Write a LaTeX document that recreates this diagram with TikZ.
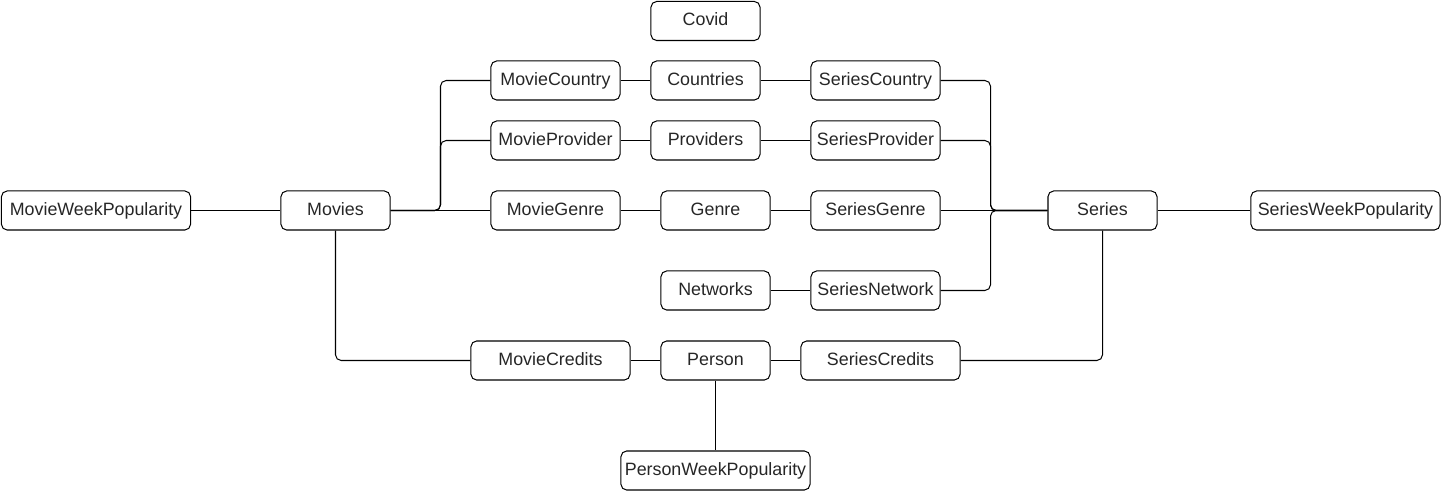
\documentclass[tikz,border=0pt]{standalone}
\usepackage{fontspec}
\setmainfont{Liberation Sans}
\begin{document}
\begin{tikzpicture}[x = 0.025cm, y = -0.025cm, line width = 0.72pt,
		tbl/.style = {draw, rounded corners = 4pt, minimum height = 0.975cm, inner sep = 0pt, text height = 9.1pt, text depth = 2.4pt, text = black!85, font = \fontsize{12.7}{15}\selectfont},
		link/.style = {rounded corners = 4pt}]
					\useasboundingbox (-0.5, -0.5) rectangle (1440.5, 490.5);
					\node[tbl, minimum width = 2.725cm] (covid) at (705, 20.5) {Covid};
					\node[tbl, minimum width = 3.225cm] (mcountry) at (555, 80) {MovieCountry};
					\node[tbl, minimum width = 2.725cm] (countries) at (705, 80) {Countries};
					\node[tbl, minimum width = 3.225cm] (scountry) at (875, 80) {SeriesCountry};
					\node[tbl, minimum width = 3.225cm] (mprovider) at (555, 140) {MovieProvider};
					\node[tbl, minimum width = 2.725cm] (providers) at (705, 140) {Providers};
					\node[tbl, minimum width = 3.225cm] (sprovider) at (875, 140) {SeriesProvider};
					\node[tbl, minimum width = 4.725cm] (mweek) at (95.5, 210) {MovieWeekPopularity};
					\node[tbl, minimum width = 2.725cm] (movies) at (335, 210) {Movies};
					\node[tbl, minimum width = 3.225cm] (mgenre) at (555, 210) {MovieGenre};
					\node[tbl, minimum width = 2.725cm] (genre) at (715, 210) {Genre};
					\node[tbl, minimum width = 3.225cm] (sgenre) at (875, 210) {SeriesGenre};
					\node[tbl, minimum width = 2.725cm] (series) at (1102, 210) {Series};
					\node[tbl, minimum width = 4.725cm] (sweek) at (1345, 210) {SeriesWeekPopularity};
					\node[tbl, minimum width = 2.725cm] (networks) at (715, 290) {Networks};
					\node[tbl, minimum width = 3.225cm] (snetwork) at (875, 290) {SeriesNetwork};
					\node[tbl, minimum width = 3.975cm] (mcredits) at (550, 360) {MovieCredits};
					\node[tbl, minimum width = 2.725cm] (person) at (715, 360) {Person};
					\node[tbl, minimum width = 3.975cm] (scredits) at (880, 360) {SeriesCredits};
					\node[tbl, minimum width = 4.725cm] (pweek) at (715, 470) {PersonWeekPopularity};
					% junctions
					\coordinate (mjoin) at (440, 210);
					\coordinate (sjoin) at (990, 210);
					% movie side
					\draw (mweek) -- (movies);
					\draw (movies) -- (mgenre);
					\draw[link] (movies.east) -- (mjoin) |- (mcountry.west);
					\draw[link] (movies.east) -- (mjoin) |- (mprovider.west);
					\draw[link] (movies.south) |- (mcredits.west);
					% middle rows
					\draw (mcountry) -- (countries) -- (scountry);
					\draw (mprovider) -- (providers) -- (sprovider);
					\draw (mgenre) -- (genre) -- (sgenre);
					\draw (networks) -- (snetwork);
					\draw (mcredits) -- (person) -- (scredits);
					\draw (person) -- (pweek);
					% series side
					\draw[link] (scountry.east) -| (sjoin) -- (series.west);
					\draw[link] (sprovider.east) -| (sjoin) -- (series.west);
					\draw (sgenre) -- (series);
					\draw[link] (snetwork.east) -| (sjoin) -- (series.west);
					\draw[link] (scredits.east) -| (series.south);
					\draw (series) -- (sweek);
				\end{tikzpicture}
\end{document}
